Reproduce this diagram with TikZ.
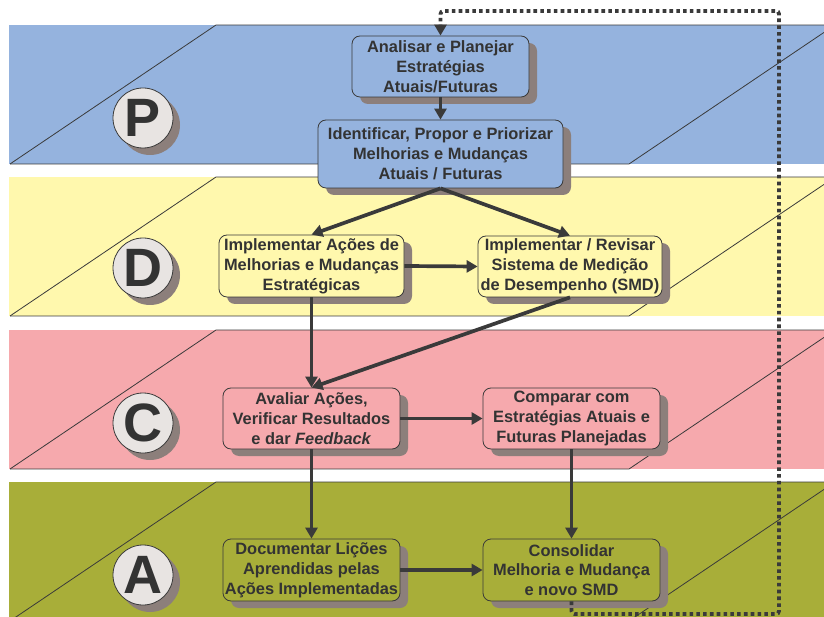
\documentclass[tikz,border=0pt]{standalone}
\usepackage{fontspec}
\setmainfont{Liberation Sans}
\usetikzlibrary{arrows.meta,shadows,calc}
\definecolor{bandblue}{HTML}{95B3DE}
\definecolor{bandyellow}{HTML}{FFF8AD}
\definecolor{bandpink}{HTML}{F6A9AD}
\definecolor{bandgreen}{HTML}{A8AE39}
\definecolor{shadowc}{HTML}{8C7F7B}
\definecolor{linec}{HTML}{3A3A3A}
\definecolor{textc}{HTML}{333333}
\definecolor{circfill}{HTML}{E8E4E2}
\begin{document}
\begin{tikzpicture}[x=1pt,y=-1pt,
  box/.style={draw=linec, line width=0.8pt, rounded corners=8pt, align=center, inner sep=0pt,
    font=\fontsize{16.4}{19.8}\selectfont\bfseries, text=textc,
    drop shadow={shadow xshift=8pt, shadow yshift=-7pt, fill=shadowc, opacity=1}},
  circ/.style={circle, draw=linec, line width=0.8pt, fill=circfill, minimum size=60pt, inner sep=0pt,
    font=\fontsize{54}{54}\selectfont\bfseries, text=textc,
    drop shadow={shadow xshift=7pt, shadow yshift=-7pt, fill=shadowc, opacity=1}},
  bandline/.style={draw=linec, line width=0.8pt},
  arr/.style={draw=linec, line width=3.7pt, -{Triangle[length=11pt,width=12pt]}},
  dotline/.style={draw=linec, line width=3.8pt, dash pattern=on 3.6pt off 3.2pt, rounded corners=3pt, -{Triangle[length=11pt,width=12pt]}}
]
\useasboundingbox (0,0) rectangle (824,617);
\clip (0,0) rectangle (824,617);
% bands
\foreach \t/\c in {25/bandblue,177/bandyellow,330/bandpink,482/bandgreen}{
  \pgfmathsetmacro{\b}{\t+139}
  \pgfmathsetmacro{\r}{\b-131.6}
  \fill[\c] (9,\t) rectangle (824,\b);
  \draw[bandline] (10,\b) -- (216,\t) -- (824,\t);
  \draw[bandline] (10,\b) -- (629,\b) -- (824,\r);
}
% circles
\node[circ] (cP) at (143,118) {P};
\node[circ] (cD) at (143,268) {D};
\node[circ] (cC) at (143,423) {C};
\node[circ] (cA) at (143,575) {A};
% boxes
\node[box, fill=bandblue, minimum width=177pt, minimum height=61pt] (b1) at (440.5,66.5) {Analisar e Planejar\\Estratégias\\Atuais/Futuras};
\node[box, fill=bandblue, minimum width=245pt, minimum height=68pt] (b2) at (440.5,154) {Identificar, Propor e Priorizar\\Melhorias e Mudanças\\Atuais / Futuras};
\node[box, fill=bandyellow, minimum width=185pt, minimum height=62pt] (b3) at (311.5,266) {Implementar Ações de\\Melhorias e Mudanças\\Estratégicas};
\node[box, fill=bandyellow, minimum width=184pt, minimum height=61pt] (b4) at (570,266.5) {Implementar / Revisar\\Sistema de Medição\\de Desempenho (SMD)};
\node[box, fill=bandpink, minimum width=177pt, minimum height=61pt] (b5) at (311.5,418.5) {Avaliar Ações,\\Verificar Resultados\\e dar \textit{Feedback}};
\node[box, fill=bandpink, minimum width=177pt, minimum height=61pt] (b6) at (571.5,418.5) {Comparar com\\Estratégias Atuais e\\Futuras Planejadas};
\node[box, fill=bandgreen, minimum width=177pt, minimum height=62pt] (b7) at (311.5,570) {Documentar Lições\\Aprendidas pelas\\Ações Implementadas};
\node[box, fill=bandgreen, minimum width=177pt, minimum height=62pt] (b8) at (571.5,570) {Consolidar\\Melhoria e Mudança\\e novo SMD};
% arrows
\draw[arr] (b1.south) -- (b2.north);
\draw[arr] (b2.south) -- (b3.north);
\draw[arr] (b2.south) -- (b4.north);
\draw[arr] (b3.east) -- (b4.west);
\draw[arr] (b3.south) -- (b5.north);
\draw[arr] (b4.south) -- (b5.north);
\draw[arr] (b5.east) -- (b6.west);
\draw[arr] (b5.south) -- (b7.north);
\draw[arr] (b6.south) -- (b8.north);
\draw[arr] (b7.east) -- (b8.west);
% feedback loop
\coordinate (d1) at (571.5,614);
\coordinate (d2) at (779,614);
\coordinate (d3) at (779,11);
\coordinate (d4) at (440.5,11);
\draw[dotline] (b8.south) -- (d1) -- (d2) -- (d3) -- (d4) -- (b1.north);
\end{tikzpicture}
\end{document}
